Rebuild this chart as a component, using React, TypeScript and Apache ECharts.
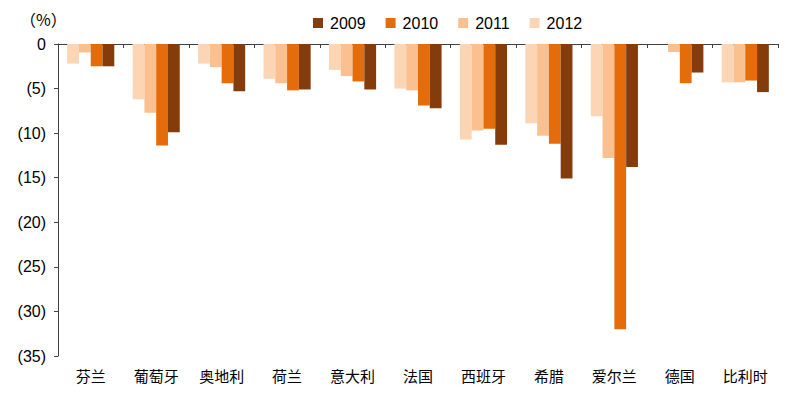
import React, { useEffect, useRef } from "react";
import * as echarts from "echarts";

const categories = ["芬兰", "葡萄牙", "奥地利", "荷兰", "意大利", "法国", "西班牙", "希腊", "爱尔兰", "德国", "比利时"];
const v2009 = [-2.5, -9.9, -5.3, -5.1, -5.1, -7.2, -11.3, -15.1, -13.8, -3.2, -5.4];
const v2010 = [-2.5, -11.4, -4.4, -5.2, -4.2, -6.9, -9.5, -11.2, -32.0, -4.4, -4.1];
const v2011 = [-0.95, -7.7, -2.6, -4.4, -3.6, -5.2, -9.7, -10.3, -12.8, -0.9, -4.3];
const v2012 = [-2.2, -6.2, -2.2, -3.9, -2.9, -5.0, -10.7, -8.9, -8.1, 0, -4.3];
const legendOrder = ["2009", "2010", "2011", "2012"];

const colors: Record<string, string> = {
  "2009": "#843C0C",
  "2010": "#E46C0A",
  "2011": "#FAC090",
  "2012": "#FCD5B5",
};

export default function App() {
  const ref = useRef<HTMLDivElement>(null);
  useEffect(() => {
    document.body.style.margin = "0";
    if (!ref.current) return;
    const chart = echarts.init(ref.current, undefined, { renderer: "svg" });
    const mk = (name: string, data: number[]) => ({
      name,
      type: "bar" as const,
      data,
      barGap: "0%",
      barCategoryGap: "28%",
      itemStyle: { color: colors[name] },
    });
    chart.setOption({
      animation: false,
      textStyle: { fontFamily: "Liberation Sans, Arial, sans-serif" },
      grid: { left: 58, right: 22, top: 44, bottom: 40, containLabel: false },
      legend: {
        data: legendOrder,
        left: 308,
        top: 10,
        itemWidth: 10,
        itemHeight: 10,
        itemGap: 20,
        icon: "rect",
        textStyle: { fontSize: 16, color: "#000", padding: [0, 0, 0, 2] },
      },
      graphic: [
        {
          type: "text",
          left: 20,
          top: 11,
          style: { text: "（%）", fontSize: 16, fill: "#000", fontFamily: "Noto Sans CJK SC" },
        },
      ],
      xAxis: [
        {
          type: "category",
          data: categories,
          position: "top",
          axisLine: { onZero: false, lineStyle: { color: "#404040", width: 1 } },
          axisTick: { show: true, inside: true, length: 4, lineStyle: { color: "#404040" } },
          axisLabel: { show: false },
        },
        {
          type: "category",
          data: categories,
          position: "bottom",
          axisLine: { show: false },
          axisTick: { show: false },
          axisLabel: {
            show: true,
            margin: 12,
            fontSize: 15,
            color: "#000",
            fontFamily: "Noto Sans CJK SC",
          },
        },
      ],
      yAxis: {
        type: "value",
        min: -35,
        max: 0,
        interval: 5,
        axisLine: { show: true, lineStyle: { color: "#404040" } },
        axisTick: { show: true, length: 4, lineStyle: { color: "#404040" } },
        splitLine: { show: false },
        axisLabel: {
          fontSize: 16,
          color: "#000",
          margin: 12,
          formatter: (v: number) => (v === 0 ? "0" : `(${Math.round(-v)})`),
        },
      },
      series: [mk("2012", v2012), mk("2011", v2011), mk("2010", v2010), mk("2009", v2009)],
    });
    return () => chart.dispose();
  }, []);
  return <div ref={ref} style={{ width: 800, height: 396 }} />;
}
